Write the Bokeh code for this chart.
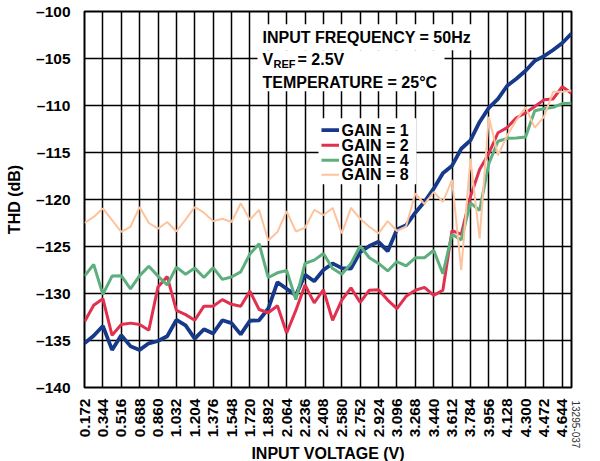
from bokeh.plotting import figure
from bokeh.models import (Range1d, FixedTicker, Label, BoxAnnotation, Title)
from bokeh.embed import file_html
from bokeh.resources import INLINE
import math

# ---------------- data ----------------
input_voltage = [0.172, 0.258, 0.344, 0.43, 0.516, 0.602, 0.688, 0.774, 0.86, 0.946,
                 1.032, 1.118, 1.204, 1.29, 1.376, 1.462, 1.548, 1.634, 1.72, 1.806,
                 1.892, 1.978, 2.064, 2.15, 2.236, 2.322, 2.408, 2.494, 2.58, 2.666,
                 2.752, 2.838, 2.924, 3.01, 3.096, 3.182, 3.268, 3.354, 3.44, 3.526,
                 3.612, 3.698, 3.784, 3.87, 3.956, 4.042, 4.128, 4.214, 4.3, 4.386,
                 4.472, 4.558, 4.644, 4.73]

thd_gain1 = [-135.3, -134.5, -133.45, -136.0, -134.45, -135.6, -136.0, -135.3, -135.05, -134.55,
             -132.8, -133.4, -134.8, -133.8, -134.25, -132.85, -133.15, -134.35, -132.9, -132.85,
             -131.6, -128.8, -129.5, -130.2, -128.0, -128.7, -127.5, -126.8, -127.3, -127.35,
             -125.6, -124.95, -124.5, -125.5, -123.2, -122.75, -121.4, -120.25, -118.85, -117.2,
             -116.4, -114.6, -113.7, -111.75, -110.25, -109.3, -107.9, -107.15, -106.3, -105.25,
             -104.75, -104.1, -103.35, -102.35]

thd_gain2 = [-133.0, -131.25, -130.55, -134.45, -133.3, -133.15, -133.3, -133.9, -129.3, -128.2,
             -131.8, -132.25, -132.85, -131.35, -131.35, -130.65, -131.15, -131.35, -129.75, -131.7,
             -132.05, -131.3, -134.2, -131.8, -129.1, -131.0, -129.6, -132.85, -130.7, -129.4,
             -130.95, -129.65, -129.6, -130.7, -131.6, -130.3, -129.65, -129.35, -130.2, -129.65,
             -123.3, -123.7, -119.7, -116.8, -115.1, -112.9, -112.35, -111.3, -110.8, -110.1,
             -109.4, -109.3, -108.0, -108.7]

thd_gain4 = [-128.15, -126.9, -130.1, -128.15, -128.1, -129.5, -128.1, -127.1, -128.15, -129.1,
             -127.2, -127.95, -127.3, -128.3, -127.25, -128.5, -128.25, -127.7, -125.8, -124.7,
             -128.3, -127.8, -127.55, -130.65, -126.8, -126.45, -125.75, -127.35, -127.95, -126.8,
             -124.95, -126.2, -126.8, -127.6, -126.6, -127.05, -126.2, -126.2, -125.4, -127.9,
             -123.7, -124.3, -120.35, -121.15, -116.2, -113.8, -113.5, -113.45, -113.35, -110.55,
             -110.35, -110.2, -109.8, -109.75]

thd_gain8 = [-122.5, -121.85, -120.95, -122.2, -123.45, -122.9, -120.8, -122.5, -123.1, -122.4,
             -123.4, -122.15, -120.8, -121.4, -122.3, -122.05, -122.4, -120.4, -122.15, -121.1,
             -124.35, -123.45, -121.25, -123.4, -123.0, -121.1, -121.65, -120.9, -123.6, -120.9,
             -122.05, -122.9, -123.6, -122.3, -123.35, -122.85, -119.35, -120.5, -119.2, -120.25,
             -117.9, -127.5, -115.65, -124.15, -111.2, -115.3, -113.2, -111.55, -110.2, -112.35,
             -111.2, -108.55, -108.55, -108.4]

x_tick_labels = ["0.172", "0.344", "0.516", "0.688", "0.860", "1.032", "1.204", "1.376", "1.548",
                 "1.720", "1.892", "2.064", "2.236", "2.408", "2.580", "2.752", "2.924", "3.096",
                 "3.268", "3.440", "3.612", "3.784", "3.956", "4.128", "4.300", "4.472", "4.644"]
y_ticks = [-140, -135, -130, -125, -120, -115, -110, -105, -100]

series_labels = ["GAIN = 1", "GAIN = 2", "GAIN = 4", "GAIN = 8"]

# ---------------- styling ----------------
FONT = "Liberation Sans"
colors = ["#17398a", "#e2314f", "#5daf7d", "#fdc39d"]
widths = [3.8, 3.0, 3.0, 2.0]

X0, X1, Y0, Y1 = 0.172, 4.73, -140, -100
FL, FT, FW, FH = 84, 11, 487, 376   # frame position/size inside the canvas

p = figure(frame_width=FW, frame_height=FH, output_backend="svg", toolbar_location=None,
           x_range=Range1d(X0, X1), y_range=Range1d(Y0, Y1),
           min_border_left=FL, min_border_right=584 - FL - FW, min_border_top=FT,
           min_border_bottom=58)

p.background_fill_color = "white"
p.border_fill_color = "white"
p.outline_line_color = "black"
p.outline_line_width = 2
p.outline_line_alpha = 1

x_ticks = [float(s) for s in x_tick_labels]
p.xaxis.ticker = FixedTicker(ticks=x_ticks)
p.xaxis.major_label_overrides = {float(s): s for s in x_tick_labels}
p.xaxis.major_label_orientation = math.pi / 2
p.yaxis.ticker = FixedTicker(ticks=y_ticks)
p.yaxis.major_label_overrides = {v: str(v).replace("-", "\u2013") for v in y_ticks}

for ax in (p.xaxis[0], p.yaxis[0]):
    ax.axis_line_color = None
    ax.major_tick_line_color = None
    ax.minor_tick_line_color = None
    ax.major_label_text_font = FONT
    ax.major_label_text_font_style = "bold"
    ax.major_label_text_font_size = "15.5px"
    ax.major_label_text_color = "black"
    ax.axis_label_text_font = FONT
    ax.axis_label_text_font_style = "bold"
    ax.axis_label_text_font_size = "16px"
    ax.axis_label_text_color = "black"

p.xaxis.axis_label = "INPUT VOLTAGE (V)"
p.yaxis.axis_label = "THD (dB)"
p.xaxis.major_label_standoff = 5
p.yaxis.major_label_standoff = 8
p.xaxis.axis_label_standoff = 5
p.yaxis.axis_label_standoff = 10

p.xgrid.ticker = FixedTicker(ticks=x_ticks)
p.ygrid.ticker = FixedTicker(ticks=y_ticks)
for g in (p.xgrid[0], p.ygrid[0]):
    g.grid_line_color = "black"
    g.grid_line_width = 1.5
    g.grid_line_alpha = 1

series = [thd_gain1, thd_gain2, thd_gain4, thd_gain8]
for ys, c, w in zip(series, colors, widths):
    p.line(input_voltage, ys, line_color=c, line_width=w)

# reference-picture pixel (frame at 84..571 x 11.3..387.3) -> data
def dx(px):
    return X0 + (px - 84) / 487 * (X1 - X0)

def dy(py):
    return Y1 - (py - 11.3) / 376 * (Y1 - Y0)

def box(l, r, t, b, color="white"):
    p.add_layout(BoxAnnotation(left=dx(l), right=dx(r), top=dy(t), bottom=dy(b),
                               fill_color=color, fill_alpha=1, line_color=None))

def lab(text, px, py, size="16px", style="bold"):
    p.add_layout(Label(x=dx(px), y=dy(py), text=text, text_font=FONT, text_font_style=style,
                       text_font_size=size, text_align="left", text_baseline="middle",
                       text_color="black"))

# condition text on a white background
box(257, 476, 24, 50)
box(257, 444, 50, 91)
lab("INPUT FREQUENCY = 50Hz", 262, 37)
lab("V", 262, 59.5)
lab("REF", 273, 64, size="11px")
lab("= 2.5V", 297, 59.5)
lab("TEMPERATURE = 25\u00b0C", 262, 82)

# legend (white panel, line swatches, labels)
box(318, 416, 118, 184)
row_y = [130, 145, 160, 174.5]
for lbl, c, w, ry in zip(series_labels, colors, widths, row_y):
    box(321, 338.5, ry - w / 2, ry + w / 2, color=c)
    lab(lbl, 341, ry)

# figure id in the right margin, low down
p.add_layout(Title(text="13295-037", text_font=FONT, text_font_size="10px",
                   text_font_style="normal", text_color="#333333",
                   align="left", offset=389, standoff=0), "right")

open("out.html", "w").write(file_html(p, INLINE))
